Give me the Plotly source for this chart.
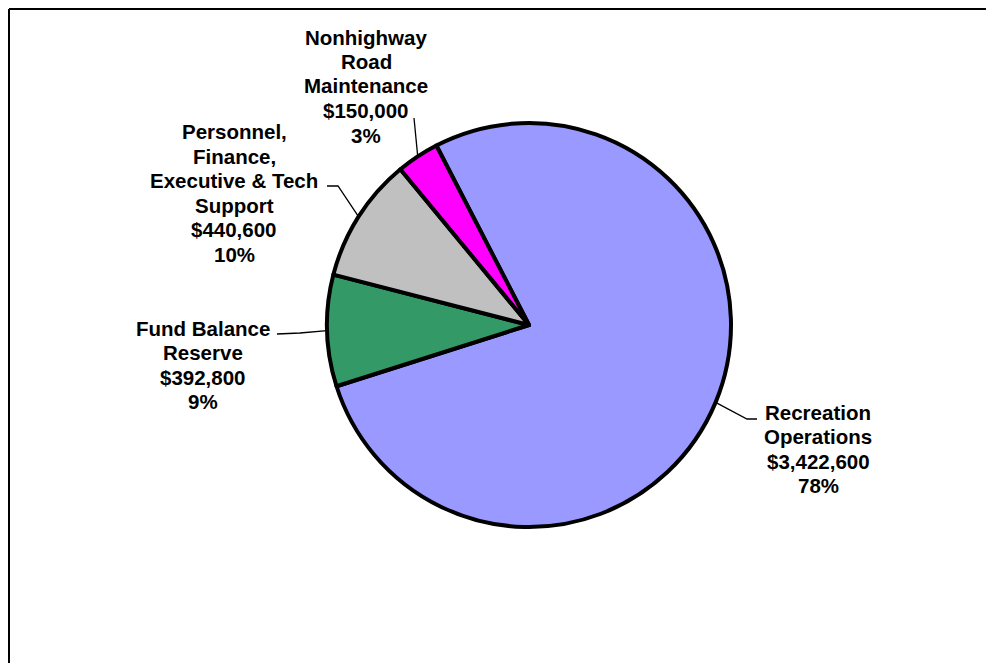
import math
import plotly.graph_objects as go

# ---- data ----
categories = ["Recreation Operations", "Fund Balance Reserve",
              "Personnel, Finance, Executive & Tech Support",
              "Nonhighway Road Maintenance"]
label_lines = [["Recreation", "Operations"],
               ["Fund Balance", "Reserve"],
               ["Personnel,", "Finance,", "Executive & Tech", "Support"],
               ["Nonhighway", "Road", "Maintenance"]]
values = [3422600, 392800, 440600, 150000]
colors = ["#9999FF", "#339966", "#C0C0C0", "#FF00FF"]

# ---- layout constants (page pixels) ----
PAGE_OFF = 8            # default body margin of the html page
W, H = 978, 655         # figure size so it fits the window without scrolling
CX, CY, R = 529, 325, 202
ROTATION = -27.3        # start angle of first slice, clockwise from 12 o'clock
LINE_H = 24.5
FONT_SIZE = 20.5

# label block centres and leader-line path (elbow, end) in page pixels
label_pos = [(818, 449), (203, 365), (234, 193), (366, 86)]
leader_tail = [[(747, 419), (757, 419)],
               [(300, 333), (277, 334)],
               [(338, 186), (327, 186)],
               [(414, 118)]]


def px(x):
    return (x - PAGE_OFF) / W


def py(y):
    return 1 - (y - PAGE_OFF) / H


fig = go.Figure()
fig.add_trace(go.Pie(
    labels=categories, values=values, sort=False, direction="clockwise",
    rotation=ROTATION, textinfo="none", hoverinfo="label+value+percent",
    marker=dict(colors=colors, line=dict(color="black", width=4)),
    domain=dict(x=[px(CX - R), px(CX + R)], y=[py(CY + R), py(CY - R)]),
    showlegend=False,
))

total = sum(values)
cum = 0.0
annotations = []
shapes = []
for i, v in enumerate(values):
    frac = v / total
    mid = math.radians(ROTATION + 360 * (cum + frac / 2))
    cum += frac
    sx = CX + R * math.sin(mid)
    sy = CY - R * math.cos(mid)
    pts = [(sx, sy)] + leader_tail[i]
    path = "M " + " L ".join(f"{px(x)},{py(y)}" for x, y in pts)
    shapes.append(dict(type="path", path=path, xref="paper", yref="paper",
                       line=dict(color="black", width=1.3)))
    lines = label_lines[i] + [f"${v:,.0f}", f"{round(100 * frac)}%"]
    lx, ly = label_pos[i]
    n = len(lines)
    for k, t in enumerate(lines):
        yk = ly + (k - (n - 1) / 2) * LINE_H
        annotations.append(dict(
            text=f"<b>{t}</b>", x=px(lx), y=py(yk), xref="paper", yref="paper",
            xanchor="center", yanchor="middle", align="center", showarrow=False,
            font=dict(family="Liberation Sans, Arial, sans-serif",
                      size=FONT_SIZE, color="black")))

# chart-area frame (top and left edges visible)
shapes.append(dict(type="line", xref="paper", yref="paper",
                   x0=px(9), x1=1.0, y0=py(9), y1=py(9),
                   line=dict(color="black", width=2)))
shapes.append(dict(type="line", xref="paper", yref="paper",
                   x0=px(9), x1=px(9), y0=py(9), y1=0.0,
                   line=dict(color="black", width=2)))

fig.update_layout(
    width=W, height=H, margin=dict(l=0, r=0, t=0, b=0),
    paper_bgcolor="white", plot_bgcolor="white",
    annotations=annotations, shapes=shapes,
)

fig.write_html("out.html")
